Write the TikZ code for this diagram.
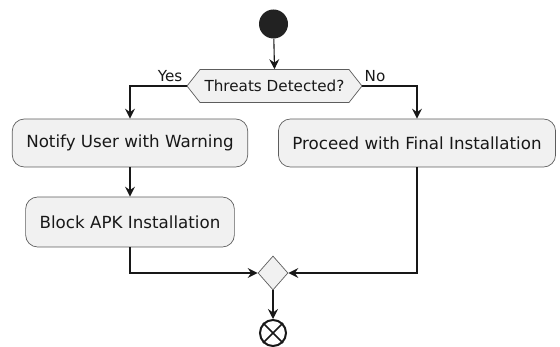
\documentclass[tikz,border=0pt]{standalone}
\usepackage{fontspec}
\setmainfont{DejaVu Sans}
\usetikzlibrary{arrows.meta,shapes.symbols,shapes.geometric}

\definecolor{umlline}{HTML}{181818}
\definecolor{umlfill}{HTML}{F1F1F1}
\definecolor{umldot}{HTML}{222222}

\begin{document}
\begin{tikzpicture}[x=1pt, y=-1pt,
  action/.style={draw=umlline!70, fill=umlfill, line width=0.7pt, rounded corners=12pt,
    minimum height=48pt, inner xsep=14pt, font=\fontsize{16.7}{18}\selectfont, text=umlline},
  flow/.style={-{Stealth[length=10pt, width=10pt, inset=3.5pt]}, line width=1.1pt, color=umlline},
  wire/.style={line width=1.1pt, color=umlline},
  guard/.style={font=\fontsize{15.2}{17}\selectfont, text=umlline, inner sep=1pt}]
\useasboundingbox (0,0) rectangle (560,347);

\node[circle, fill=umldot, minimum size=29pt, inner sep=0pt] (start) at (273.5, 24) {};

\node[signal, signal to=west and east, signal pointer angle=103.6, draw=umlline!70, fill=umlfill,
  line width=0.7pt, minimum height=33pt, minimum width=175pt, inner xsep=2pt, inner ysep=0pt,
  font=\fontsize{15.2}{17}\selectfont, text=umlline] (threats) at (274.5, 86) {Threats Detected?};
\node[guard, anchor=base east] (yes) at ([xshift=-3pt, yshift=4pt]threats.west) {Yes};
\node[guard, anchor=base west] (no) at ([xshift=1pt, yshift=4pt]threats.east) {No};

\node[action] (notify) at (130, 143) {Notify User with Warning};
\node[action, minimum height=50pt] (block) at (130, 222) {Block APK Installation};
\node[action] (proceed) at (417, 143) {Proceed with Final Installation};

\node[diamond, draw=umlline!70, fill=umlfill, line width=0.7pt, minimum width=30pt,
  minimum height=34pt, inner sep=0pt] (merge) at (273, 273) {};

\node[circle, draw=umlline, line width=2pt, minimum size=26pt, inner sep=0pt] (stop) at (273, 333) {};
\draw[wire, line width=1.6pt] (stop.45) -- (stop.225);
\draw[wire, line width=1.6pt] (stop.135) -- (stop.315);

\draw[flow] (start) -- (threats.north);
\draw[flow] (threats.west) -| (notify.north);
\draw[flow] (threats.east) -| (proceed.north);
\draw[flow] (notify) -- (block);
\draw[flow] (block.south) |- (merge.west);
\draw[flow] (proceed.south) |- (merge.east);
\draw[flow] (merge) -- (stop);
\end{tikzpicture}
\end{document}
